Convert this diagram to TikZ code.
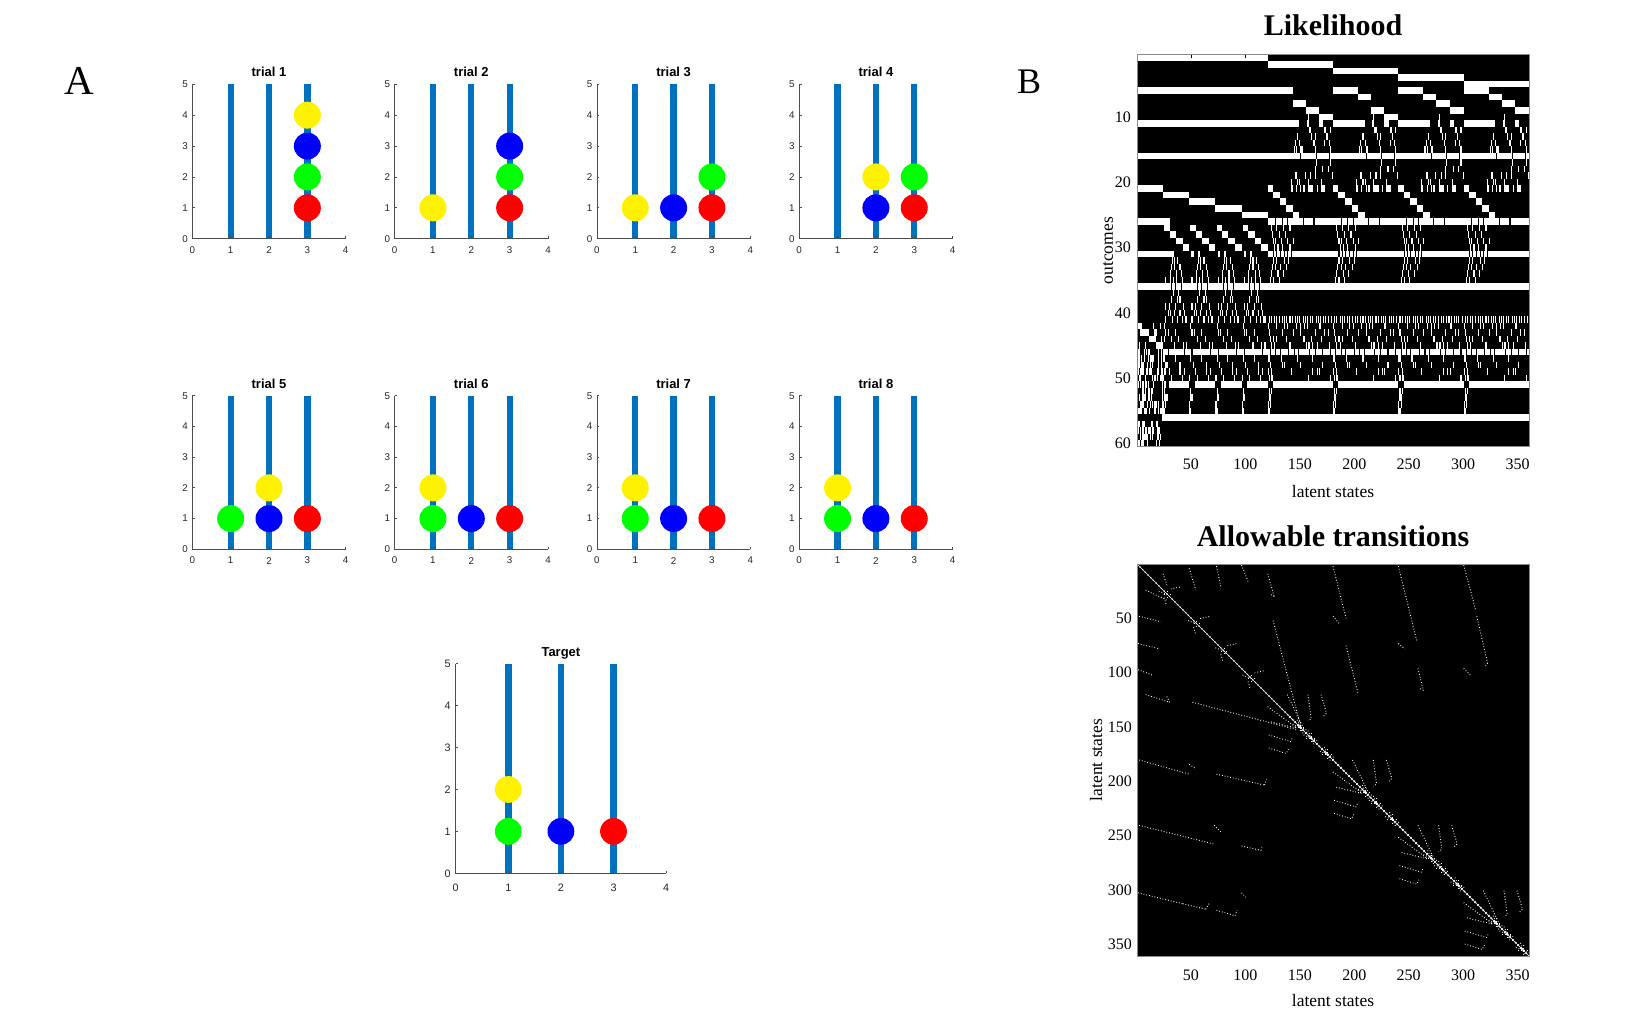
\documentclass[tikz,border=0pt]{standalone}
\usepackage{fontspec}
\setmainfont{Liberation Serif}
\setsansfont{Liberation Sans}
\definecolor{rodblue}{HTML}{0072BD}
\definecolor{axgray}{HTML}{4D4D4D}
\definecolor{boxgray}{HTML}{8A8A8A}
\def\tfs{9.8}\def\xoff{11.3pt}\def\yoff{4.4pt}\def\rodw{6.3}\def\br{13.5pt}
\tikzset{
 axl/.style={draw=axgray, line width=0.8pt},
 rodl/.style={draw=rodblue, line width=\rodw pt},
 tickA/.style={font=\sffamily\fontsize{\tfs}{\tfs}\selectfont, inner sep=0pt, text=black!85},
 ttlA/.style={font=\sffamily\bfseries\fontsize{13}{13}\selectfont, inner sep=0pt, anchor=base},
 tickB/.style={font=\fontsize{16}{16}\selectfont, inner sep=0pt},
 labB/.style={font=\fontsize{17.5}{17.5}\selectfont, inner sep=0pt},
 ttlB/.style={font=\bfseries\fontsize{30}{30}\selectfont, inner sep=0pt, anchor=base},
 dl/.style={draw=white, line width=0.9pt, dash pattern=on 0.8pt off 2pt},
}
\newcommand\ball[3]{\fill[#1] (#2,#3) circle[radius=\br];}
\newcommand\hpanel[7]{%
 \begin{scope}[shift={(#2pt,-#3pt)}, x=#4pt, y=#5pt]
 \foreach \k in {1,2,3} {\draw[rodl] (\k,0) -- (\k,5);}
 #7
 \draw[axl] (0,5) -- (0,0) -- (4,0);
 \foreach \k in {1,...,4} {\draw[axl] (\k,0) -- ++(0,2.5pt);}
 \foreach \k in {1,...,5} {\draw[axl] (0,\k) -- ++(2.5pt,0);}
 \foreach \k in {0,...,4} {\node[tickA] (#1x\k) at ([yshift=-\xoff]\k,0) {\k};}
 \foreach \k in {0,...,5} {\node[tickA, anchor=east] (#1y\k) at ([xshift=-\yoff]0,\k) {\k};}
 \node[ttlA] (#1t) at ([yshift=7.5pt]2,5) {#6};
 \end{scope}}
\newcommand\W[3]{\fill[white] ({#2-1},{#1-1}) rectangle ({#3},{#1});}
\newcommand\BW[3]{\fill[white] ({\bb+#2-1},{#1-1}) rectangle ({\bb+#3},{#1});}
\newcommand\BK[3]{\fill[black] ({\bb+#2-1},{#1-1}) rectangle ({\bb+#3},{#1});}
\begin{document}
\begin{tikzpicture}[x=1pt, y=-1pt]
\useasboundingbox (0,0) rectangle (1643,1031);
% ---------------- panel labels
\node[font=\fontsize{41}{41}\selectfont, anchor=base, inner sep=0pt] (labA) at (79,94.3) {A};
\node[font=\fontsize{36}{36}\selectfont, anchor=base, inner sep=0pt] (labB) at (1029,93.3) {B};
% ---------------- A: trials
\hpanel{ta}{192.3}{238.7}{38.35}{30.88}{trial 1}{\ball{red}{3}{1}\ball{green}{3}{2}\ball{blue}{3}{3}\ball{yellow}{3}{4}}
\hpanel{tb}{394.6}{238.7}{38.35}{30.88}{trial 2}{\ball{yellow}{1}{1}\ball{red}{3}{1}\ball{green}{3}{2}\ball{blue}{3}{3}}
\hpanel{tc}{596.9}{238.7}{38.35}{30.88}{trial 3}{\ball{yellow}{1}{1}\ball{blue}{2}{1}\ball{red}{3}{1}\ball{green}{3}{2}}
\hpanel{td}{799.2}{238.7}{38.35}{30.88}{trial 4}{\ball{blue}{2}{1}\ball{yellow}{2}{2}\ball{red}{3}{1}\ball{green}{3}{2}}
\hpanel{te}{192.3}{549.3}{38.35}{30.72}{trial 5}{\ball{green}{1}{1}\ball{blue}{2}{1}\ball{yellow}{2}{2}\ball{red}{3}{1}}
\hpanel{tf}{394.6}{549.3}{38.35}{30.72}{trial 6}{\ball{green}{1}{1}\ball{yellow}{1}{2}\ball{blue}{2}{1}\ball{red}{3}{1}}
\hpanel{tg}{596.9}{549.3}{38.35}{30.72}{trial 7}{\ball{green}{1}{1}\ball{yellow}{1}{2}\ball{blue}{2}{1}\ball{red}{3}{1}}
\hpanel{th}{799.2}{549.3}{38.35}{30.72}{trial 8}{\ball{green}{1}{1}\ball{yellow}{1}{2}\ball{blue}{2}{1}\ball{red}{3}{1}}
\def\tfs{10.8}\def\xoff{14.2pt}\def\yoff{5pt}\def\rodw{6.5}\def\br{13.4pt}
\hpanel{tt}{455.7}{873.3}{52.6}{41.92}{Target}{\ball{green}{1}{1}\ball{yellow}{1}{2}\ball{blue}{2}{1}\ball{red}{3}{1}}
% ---------------- B: likelihood
\begin{scope}[shift={(1137pt,-54.7pt)}, x=1.08889pt, y=-6.53333pt]
 \fill[black] (0,0) rectangle (360,60);
 \foreach \rr/\a/\e in {1/1/120, 2/121/180, 3/181/240, 4/241/300, 5/301/360,
  6/1/143, 6/181/203, 6/241/263, 6/301/323,
  8/144/155, 9/156/167, 10/168/180,
  7/204/215, 9/216/227, 10/228/240,
  7/264/275, 8/276/287, 9/288/300,
  7/324/335, 8/336/347, 9/348/360,
  11/1/149, 16/1/360, 36/1/360,
  21/1/24, 22/25/48, 23/49/72, 24/73/96, 25/97/120,
  26/1/30, 31/1/32,
  42/1/5, 43/6/11, 44/12/17, 45/18/24,
  46/30/360,
  51/30/48, 51/54/72, 51/78/96, 51/102/120,
  56/24/360}
  {\W{\rr}{\a}{\e}}
 % periodic 60-blocks
 \foreach \bb in {120,180,240,300} {
  \foreach \rr/\a/\e in {11/1/29, 11/37/38, 11/48/51, 10/38/38, 12/39/40, 12/53/54, 13/41/41, 13/55/55,
   14/30/30, 14/43/43, 14/57/57, 15/31/32, 15/44/44, 15/58/58, 17/45/45, 17/58/58, 18/44/44, 18/56/56,
   19/26/26, 19/35/35, 19/40/40, 20/22/22, 20/30/30, 20/38/38, 20/50/50,
   21/1/5, 21/22/23, 21/27/27, 21/31/31, 21/33/34, 21/38/42, 21/46/46, 21/50/53,
   22/6/11, 23/12/17, 24/18/23, 25/24/29, 26/1/60, 31/1/60, 51/6/60,
   27/4/4, 27/9/9, 27/15/15, 27/21/21, 28/5/5, 28/11/11, 28/17/17, 29/6/6, 29/8/8, 29/13/13, 29/19/19, 29/24/24,
   30/7/7, 30/10/10, 30/14/14, 30/21/21, 32/6/6, 32/9/9, 32/16/16, 32/20/20, 33/5/5, 33/8/8, 33/12/12, 33/18/18,
   34/4/4, 34/10/10, 34/15/15, 35/3/3, 35/6/6, 35/11/11,
   42/1/1, 42/9/9, 42/19/19, 42/27/27, 42/37/37, 42/48/48, 43/2/2, 43/14/14, 43/24/24, 43/31/31, 43/44/44, 43/53/53,
   44/3/3, 44/6/6, 44/18/18, 44/33/33, 44/41/41, 44/50/50, 45/4/4, 45/7/7, 45/21/21, 45/36/36, 45/46/46, 45/57/57,
   47/1/2, 47/13/13, 47/28/28, 47/42/42, 48/3/3, 48/16/16, 48/31/31, 48/51/51, 49/1/1, 49/4/4, 49/22/22, 49/46/46,
   50/2/2, 50/5/5, 50/38/38, 52/2/2, 52/4/4, 53/2/3, 54/1/1, 54/3/3, 55/1/2}
   {\BW{\rr}{\a}{\e}}
  \foreach \o in {2,4,7,9,11,14,16,18,21,23,26,28,30,33,35,37,40,42,45,47,49,52,54,56,59} {\BW{41}{\o}{\o}}
  \foreach \o in {31,45,57} {\BK{16}{\o}{\o}}
  \foreach \o in {8,14,19,33,43} {\BK{26}{\o}{\o}}
  \foreach \o in {6,9,12,16,19,22} {\BK{31}{\o}{\o}}
  \foreach \o in {3,8,12,20,25,29,39,44,51,58} {\BK{46}{\o}{\o}}
  \pgfmathsetseed{11}
  \foreach \i in {1,...,14} {\pgfmathrandominteger{\ro}{12}{20}\pgfmathrandominteger{\oo}{20}{60}\BW{\ro}{\oo}{\oo}}
  \foreach \i in {1,...,16} {\pgfmathrandominteger{\ro}{42}{50}\pgfmathrandominteger{\oo}{1}{60}\BW{\ro}{\oo}{\oo}}
 }
 % periodic 24-sub-blocks for states 25-120
 \foreach \bb in {24,48,72,96} {
  \foreach \rr/\a/\e in {27/2/6, 28/7/12, 29/13/18, 30/19/24, 31/3/4, 31/9/10,
   32/9/9, 32/14/14, 33/8/8, 33/11/11, 33/16/16, 34/7/7, 34/13/13, 34/17/17, 35/7/7, 35/10/10, 35/18/18,
   37/10/10, 37/15/15, 38/8/8, 38/14/14, 39/6/6, 39/12/12, 39/19/19, 40/5/5, 40/7/7, 40/11/11, 40/16/16, 40/20/20,
   41/3/3, 41/9/9, 41/14/14, 41/18/18, 41/22/22, 42/2/2, 43/5/5, 43/12/12, 44/8/8, 44/15/15, 45/11/11, 45/19/19, 45/22/22,
   47/2/2, 47/12/12, 48/4/4, 48/16/16, 49/6/6, 49/20/20, 50/1/1, 50/8/8,
   52/2/2, 53/2/3, 54/1/1, 55/1/2}
   {\BW{\rr}{\a}{\e}}
  \foreach \o in {8,12,17} {\BK{36}{\o}{\o}}
  \foreach \o in {3,8,14,20} {\BK{46}{\o}{\o}}
  \pgfmathsetseed{5}
  \foreach \i in {1,...,14} {\pgfmathrandominteger{\ro}{32}{50}\pgfmathrandominteger{\oo}{2}{24}\BW{\ro}{\oo}{\oo}}
 }
 % dense texture at the left
 \pgfmathsetseed{7}
 \foreach \i in {1,...,150} {\pgfmathrandominteger{\ro}{46}{55}\pgfmathrandominteger{\oo}{1}{28}\W{\ro}{\oo}{\oo}}
 \foreach \i in {1,...,50} {\pgfmathrandominteger{\ro}{57}{60}\pgfmathrandominteger{\oo}{1}{22}\W{\ro}{\oo}{\oo}}
 \foreach \i in {1,...,12} {\pgfmathrandominteger{\ro}{42}{45}\pgfmathrandominteger{\oo}{1}{28}\W{\ro}{\oo}{\oo}}
 \draw[boxgray, line width=0.6pt] (0,0) rectangle (360,60);
 \draw[black, line width=0.6pt] (49.5,0) -- (49.5,0.45) (99.5,0) -- (99.5,0.45);
 \foreach \v in {50,100,...,350} {\node[tickB] (lx\v) at ([yshift=-17.5pt]\v-0.5,60) {\v};}
 \foreach \v in {10,20,...,60} {\node[tickB, anchor=east] (ly\v) at ([xshift=-6pt]0,\v-0.5) {\v};}
 \node[labB] (lxl) at ([yshift=-45pt]180,60) {latent states};
 \node[labB, rotate=90] (lyl) at ([xshift=-29pt]0,30) {outcomes};
 \node[ttlB] (lt) at ([yshift=19.7pt]180,0) {Likelihood};
\end{scope}
% ---------------- B: allowable transitions
\begin{scope}[shift={(1137pt,-564pt)}, x=1.08889pt, y=-1.08889pt]
 \fill[black] (0,0) rectangle (360,360);
 \draw[white, line width=0.6pt] (0,0) -- (360,360);
 \draw[white, line width=1.3pt, dash pattern=on 0.8pt off 3pt] (0,0) -- (140,140);
 \draw[white, line width=2pt, dash pattern=on 1.2pt off 2.6pt] (140,140) -- (360,360);
 \draw[dl] (51,127) -- (146,152);
 \draw[dl] (125,52) -- (150,148);
 \foreach \a/\b/\c/\d in {8/24/27/33, 2/48/22/53, 1/73/21/78, 1/97/14/102, 8/120/30/127, 30/127/27/121,
  2/180/48/193, 48/184/54/188, 73/193/117/203, 117/203/119/198, 2/240/70/257, 71/240/77/246, 96/259/114/263, 114/263/115/258,
  1/302/42/312, 42/312/63/317, 63/317/66/312, 73/318/90/323, 90/323/92/318, 96/302/100/306,
  24/9/28/21, 48/4/54/24, 73/2/77/21, 96/1/102/16, 120/9/126/30, 126/30/122/27, 180/2/192/50, 180/48/186/55,
  192/75/203/119, 240/2/257/71, 240/73/246/78, 258/96/263/116, 263/116/259/114, 300/1/311/42, 312/48/322/91, 322/91/320/94, 300/96/306/102}
  {\draw[dl] (\a,\b) -- (\c,\d);}
 \foreach \c in {150,210,270,330} {
  \draw[dl] (\c-12,\c-30) -- (\c+2,\c-1);
  \draw[dl] (\c+7,\c-30) -- (\c+10,\c-8) -- (\c+7,\c-6);
  \draw[dl] (\c+19,\c-30) -- (\c+24,\c-13) -- (\c+21,\c-10);
  \draw[dl] (\c-27,\c-5) -- (\c-2,\c+1);
  \draw[dl] (\c-29,\c+7) -- (\c-9,\c+13) -- (\c-7,\c+9);
  \draw[dl] (\c-29,\c+19) -- (\c-13,\c+24) -- (\c-11,\c+20);
  \draw[dl] (\c-30,\c-19) -- (\c-4,\c);
  \foreach \d in {0,10,25} {
   \draw[dl] (\c+\d-5,\c+\d) -- (\c+\d+5,\c+\d) (\c+\d,\c+\d-5) -- (\c+\d,\c+\d+5);
   \draw[dl] (\c+\d-7,\c+\d-3) -- (\c+\d+7,\c+\d+3) (\c+\d-3,\c+\d-7) -- (\c+\d+3,\c+\d+7);
   \fill[white] (\c+\d,\c+\d) circle[radius=1.3pt];
  }
 }
 \foreach \c in {28,55,80,105} {
  \draw[dl] (\c-8,\c-3) -- (\c,\c) (\c+3,\c-5) -- (\c+12,\c-7) (\c-3,\c+3) -- (\c-1,\c+10);
  \draw[dl] (\c-3,\c) -- (\c+3,\c) (\c,\c-3) -- (\c,\c+3);
 }
 \draw[boxgray, line width=0.6pt] (0,0) rectangle (360,360);
 \foreach \v in {50,100,...,350} {\node[tickB] (tx\v) at ([yshift=-19pt]\v-0.5,360) {\v};}
 \foreach \v in {50,100,...,350} {\node[tickB, anchor=east] (ty\v) at ([xshift=-5pt]0,\v-0.5) {\v};}
 \node[labB] (txl) at ([yshift=-44.3pt]180,360) {latent states};
 \node[labB, rotate=90] (tyl) at ([xshift=-41pt]0,180) {latent states};
 \node[ttlB] (tt) at ([yshift=17.3pt]180,0) {Allowable transitions};
\end{scope}
\end{tikzpicture}
\end{document}
